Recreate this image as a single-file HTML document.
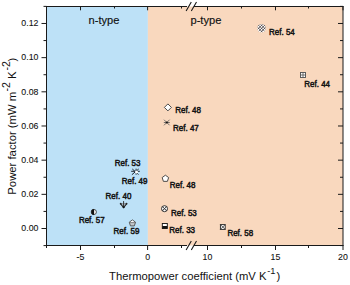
<!DOCTYPE html>
<html><head><meta charset="utf-8"><style>
html,body{margin:0;padding:0;background:#fff;width:350px;height:285px;overflow:hidden}
svg{display:block;font-family:"Liberation Sans",sans-serif}
</style></head><body>
<svg width="350" height="285" viewBox="0 0 350 285">
<rect x="46.5" y="6.5" width="101.4" height="239.0" fill="#bde1f7"/>
<rect x="147.9" y="6.5" width="195.1" height="239.0" fill="#f9d8be"/>
<path d="M41.5,228.50H46.5M343.0,228.50H338.0M41.5,194.33H46.5M343.0,194.33H338.0M41.5,160.16H46.5M343.0,160.16H338.0M41.5,125.99H46.5M343.0,125.99H338.0M41.5,91.82H46.5M343.0,91.82H338.0M41.5,57.65H46.5M343.0,57.65H338.0M41.5,23.48H46.5M343.0,23.48H338.0M43.5,245.59H46.5M343.0,245.59H340.0M43.5,211.41H46.5M343.0,211.41H340.0M43.5,177.25H46.5M343.0,177.25H340.0M43.5,143.07H46.5M343.0,143.07H340.0M43.5,108.91H46.5M343.0,108.91H340.0M43.5,74.73H46.5M343.0,74.73H340.0M43.5,40.56H46.5M343.0,40.56H340.0M43.5,6.39H46.5M343.0,6.39H340.0M80.5,245.5V250.0M80.5,6.5V10.3M147.6,245.5V250.0M147.6,6.5V10.3M207.5,245.5V250.0M207.5,6.5V10.3M275.5,245.5V250.0M275.5,6.5V10.3M343.0,245.5V250.0M343.0,6.5V10.3M46.5,245.5V248.0M46.5,6.5V8.5M114.5,245.5V248.0M114.5,6.5V8.5M181.5,245.5V248.0M181.5,6.5V8.5M241.5,245.5V248.0M241.5,6.5V8.5M308.5,245.5V248.0M308.5,6.5V8.5" stroke="#1a1a1a" stroke-width="1" fill="none"/>
<path d="M46.5,6.5V245.5M343.0,6.5V245.5M46.5,6.5H186.5M194.5,6.5H343.0M46.5,245.5H186.5M194.5,245.5H343.0" stroke="#1a1a1a" stroke-width="1" stroke-linecap="square" fill="none"/>
<path d="M186.1,11.1L191.29999999999998,1.9000000000000004M191.3,11.1L196.5,1.9000000000000004M186.1,250.1L191.29999999999998,240.9M191.3,250.1L196.5,240.9" stroke="#1a1a1a" stroke-width="1.1" fill="none"/>
<g font-size="8.8" fill="#111" stroke="#111" stroke-width="0.08"><text transform="translate(38.4,231.30) scale(1,1.12)" text-anchor="end">0.00</text><text transform="translate(38.4,197.13) scale(1,1.12)" text-anchor="end">0.02</text><text transform="translate(38.4,162.96) scale(1,1.12)" text-anchor="end">0.04</text><text transform="translate(38.4,128.79) scale(1,1.12)" text-anchor="end">0.06</text><text transform="translate(38.4,94.62) scale(1,1.12)" text-anchor="end">0.08</text><text transform="translate(38.4,60.45) scale(1,1.12)" text-anchor="end">0.10</text><text transform="translate(38.4,26.28) scale(1,1.12)" text-anchor="end">0.12</text><text transform="translate(80.5,260.4) scale(1,1.12)" text-anchor="middle">-5</text><text transform="translate(147.6,260.4) scale(1,1.12)" text-anchor="middle">0</text><text transform="translate(207.5,260.4) scale(1,1.12)" text-anchor="middle">10</text><text transform="translate(275.5,260.4) scale(1,1.12)" text-anchor="middle">15</text><text transform="translate(343.0,260.4) scale(1,1.12)" text-anchor="middle">20</text></g>
<text x="109.1" y="280" font-size="11.25" fill="#111">Thermopower coefficient (mV K<tspan x="267.2" dy="-5.6" font-size="9.3">-1</tspan><tspan x="276.4" dy="5.6" font-size="11.25">)</tspan></text>
<g transform="translate(15.6,193.8) rotate(-90)" fill="#111"><text x="-0.9" y="0" font-size="11.3">Power factor (mW m<tspan x="102.2" dy="-5.4" font-size="10.6">-2</tspan><tspan x="114.7" dy="5.4" font-size="11.3">K</tspan><tspan x="123.4" dy="-5.4" font-size="10.6">-2</tspan><tspan x="132.2" dy="5.4" font-size="11.3">)</tspan></text></g>
<g font-size="11.1" fill="#111" stroke="#111" stroke-width="0.15"><text transform="translate(88.6,24.1) scale(1,1.05)">n-type</text><text transform="translate(190.5,24.1) scale(1,1.05)">p-type</text></g>
<g font-size="8" fill="#141414" stroke="#141414" stroke-width="0.45"><text transform="translate(269,35.2) scale(1,1.12)">Ref. 54</text><text transform="translate(304.3,86.9) scale(1,1.12)">Ref. 44</text><text transform="translate(175.2,113.2) scale(1,1.12)">Ref. 48</text><text transform="translate(173,131.2) scale(1,1.12)">Ref. 47</text><text transform="translate(114.7,165.9) scale(1,1.12)">Ref. 53</text><text transform="translate(121.7,183.9) scale(1,1.12)">Ref. 49</text><text transform="translate(169.7,187.5) scale(1,1.12)">Ref. 48</text><text transform="translate(105.6,198.5) scale(1,1.12)">Ref. 40</text><text transform="translate(78.9,223.3) scale(1,1.12)">Ref. 57</text><text transform="translate(171,215.5) scale(1,1.12)">Ref. 53</text><text transform="translate(113.6,233.5) scale(1,1.12)">Ref. 59</text><text transform="translate(169.3,233.4) scale(1,1.12)">Ref. 33</text><text transform="translate(227.4,235.5) scale(1,1.12)">Ref. 58</text></g>
<clipPath id="c54"><circle cx="261.6" cy="28.3" r="4.1"/></clipPath><circle cx="261.6" cy="28.3" r="4.1" fill="#fff"/><path d="M250.60000000000002,20.3l16,16M272.6,20.3l-16,16M253.60000000000002,20.3l16,16M269.6,20.3l-16,16M256.6,20.3l16,16M266.6,20.3l-16,16M259.6,20.3l16,16M263.6,20.3l-16,16M262.6,20.3l16,16M260.6,20.3l-16,16M265.6,20.3l16,16M257.6,20.3l-16,16M268.6,20.3l16,16M254.60000000000002,20.3l-16,16M271.6,20.3l16,16M251.60000000000002,20.3l-16,16" stroke="#3a3030" stroke-width="0.75" clip-path="url(#c54)"/><rect x="300.5" y="72.5" width="5" height="5" fill="#fff" stroke="#555" stroke-width="0.95"/><path d="M300.5,75.0H305.5M303.0,72.5V77.5" stroke="#555" stroke-width="0.85"/><path d="M167.9,103.9L171.4,107.4L167.9,110.9L164.4,107.4Z" fill="#fff" stroke="#3a3a3a" stroke-width="0.9"/><path d="M164.0,119.7l5.6,5.6M169.60000000000002,119.7l-5.6,5.6M163.8,122.5h6" stroke="#555" stroke-width="0.8"/><circle cx="166.8" cy="122.5" r="1" fill="#111"/><path d="M131.2,171.29999999999998H139.8M131.9,174.7L138.7,169.0M132.3,169.0L138.5,174.5M136.1,168.7V174.7" stroke="#1e2630" stroke-width="1"/><circle cx="136.5" cy="171.89999999999998" r="1.5" fill="#fff"/><polygon points="165.40,175.20 168.63,177.55 167.40,181.35 163.40,181.35 162.17,177.55" fill="#fff" stroke="#3a3a3a" stroke-width="0.9"/><path d="M120.3,203.5H126.89999999999999L123.6,207.60000000000002Z" fill="#a9b8c3" stroke="#7d8a94" stroke-width="0.6"/><path d="M120.3,203.5L123.6,207.60000000000002L126.89999999999999,203.5" fill="none" stroke="#2a2a2a" stroke-width="1.1" stroke-linejoin="round"/><path d="M123.6,201.10000000000002V207.3" stroke="#333" stroke-width="1"/><circle cx="120.69999999999999" cy="203.70000000000002" r="0.9" fill="#222"/><circle cx="126.5" cy="203.70000000000002" r="0.9" fill="#222"/><circle cx="123.6" cy="207.20000000000002" r="1" fill="#111"/><circle cx="93.8" cy="212" r="2.6" fill="#fff" stroke="#222" stroke-width="0.75"/><path d="M94.1,209.1A2.9,2.9 0 0 0 94.1,214.9Z" fill="#111"/><circle cx="164.5" cy="208.7" r="3" fill="#fff" stroke="#2e2e2e" stroke-width="1"/><path d="M162.4,206.6l4.2,4.2M166.6,206.6l-4.2,4.2" stroke="#2e2e2e" stroke-width="1"/><clipPath id="c59"><polygon points="132.40,219.90 135.54,222.18 134.34,225.87 130.46,225.87 129.26,222.18"/></clipPath><polygon points="132.40,219.90 135.54,222.18 134.34,225.87 130.46,225.87 129.26,222.18" fill="#fff"/><rect x="128.4" y="222.7" width="8" height="5" fill="#c4c8cc" clip-path="url(#c59)"/><polygon points="132.40,219.90 135.54,222.18 134.34,225.87 130.46,225.87 129.26,222.18" fill="none" stroke="#4a4a4a" stroke-width="0.9"/><path d="M129.4,222.6H135.4" stroke="#666" stroke-width="0.8"/><rect x="162.3" y="223.5" width="5" height="5" fill="#fff" stroke="#111" stroke-width="0.9"/><rect x="162.3" y="226" width="5" height="2.5" fill="#111"/><rect x="220.4" y="224.6" width="4.8" height="4.8" fill="#fff" stroke="#222" stroke-width="0.9"/><path d="M220.4,224.6l4.8,4.8M225.20000000000002,224.6l-4.8,4.8" stroke="#333" stroke-width="0.8"/>
</svg>
</body></html>
